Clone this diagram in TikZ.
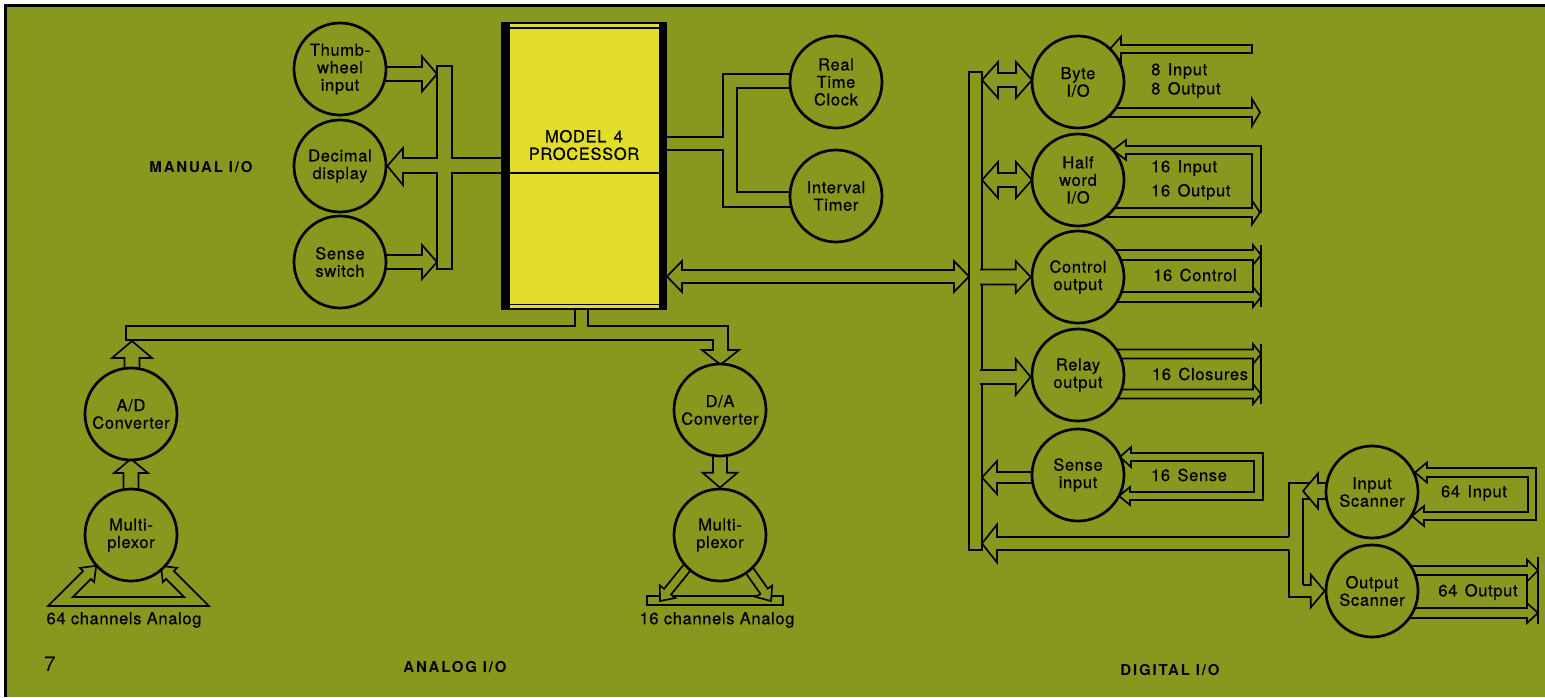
\documentclass[tikz,border=0pt]{standalone}
\usepackage{fontspec}
\setmainfont{TeX Gyre Heros}
\usetikzlibrary{calc}
\definecolor{olivebg}{RGB}{136,152,30}
\definecolor{procyellow}{RGB}{226,220,42}
\pgfdeclarelayer{chan}
\pgfsetlayers{chan,main}
\newcommand{\lblfont}{\fontsize{16.5}{17.5}\selectfont\addfontfeature{LetterSpace=4,FakeBold=0.6}}
\newcommand{\sectfont}{\fontsize{15}{17}\selectfont\bfseries\addfontfeature{LetterSpace=12}}
\newcommand{\wgap}{\hspace{0.45em}}
% hollow arrow with open base: [style]{start}{tip}{shaft half width}{head half width}{head length}
\newcommand{\hollowarr}[6][]{%
 \coordinate (ha) at (#2);
 \coordinate (hb) at (#3);
 \coordinate (hc) at ($(hb)!#6!(ha)$);
 \path[harr,#1] ($(ha)!#4!90:(hb)$) -- ($(hc)!#4!90:(hb)$) -- ($(hc)!#5!90:(hb)$) -- (hb) -- ($(hc)!#5!-90:(hb)$) -- ($(hc)!#4!-90:(hb)$) -- ($(ha)!#4!-90:(hb)$);%
}
% hollow double-headed arrow
\newcommand{\hollowdarr}[6][]{%
 \coordinate (ha) at (#2);
 \coordinate (hb) at (#3);
 \coordinate (hc) at ($(hb)!#6!(ha)$);
 \coordinate (hd) at ($(ha)!#6!(hb)$);
 \path[harr,#1] (ha) -- ($(hd)!#5!90:(hb)$) -- ($(hd)!#4!90:(hb)$) -- ($(hc)!#4!90:(hb)$) -- ($(hc)!#5!90:(hb)$) -- (hb) -- ($(hc)!#5!-90:(hb)$) -- ($(hc)!#4!-90:(hb)$) -- ($(hd)!#4!-90:(hb)$) -- ($(hd)!#5!-90:(hb)$) -- cycle;%
}
\tikzset{
 harr/.style={draw, fill=olivebg, line width=1.7pt, line join=miter},
 wire/.style={draw, line width=1.7pt, line join=miter},
 unit/.style={circle, draw, line width=2.7pt, fill=olivebg, minimum size=92pt, inner sep=0pt, align=center, font=\lblfont},
 txt/.style={inner sep=0pt, font=\lblfont},
 sect/.style={inner sep=0pt, font=\sectfont},
}
\begin{document}
\begin{tikzpicture}[x=1pt,y=-1pt]
\useasboundingbox (0,0) rectangle (1545,697);
% ---------- units ----------
\node[unit] (thumb) at (340,69) {Thumb-\\wheel\\input};
\node[unit] (decimal) at (340,166) {Decimal\\display};
\node[unit] (sensesw) at (340,262) {Sense\\switch};
\node[unit] (clock) at (836,82) {Real\\Time\\Clock};
\node[unit] (timer) at (836,196) {Interval\\Timer};
\node[unit] (ad) at (131,414) {A/D\\Converter};
\node[unit] (muxa) at (131,535) {Multi-\\plexor};
\node[unit] (da) at (720,410) {D/A\\Converter};
\node[unit] (muxd) at (720,535) {Multi-\\plexor};
\node[unit] (byte) at (1078,82) {Byte\\I/O};
\node[unit] (half) at (1078,180) {Half\\word\\I/O};
\node[unit] (ctrl) at (1078,277) {Control\\output};
\node[unit] (relay) at (1078,375) {Relay\\output};
\node[unit] (sensein) at (1078,475) {Sense\\input};
\node[unit] (inscan) at (1372,492) {Input\\Scanner};
\node[unit] (outscan) at (1372,591) {Output\\Scanner};
% ---------- processor ----------
\node[fill=procyellow, minimum width=166pt, minimum height=288pt, inner sep=0pt] (proc) at (584,166) {};
\fill[black] (501,22) rectangle (510,310);
\fill[black] (659,22) rectangle (667,310);
\draw[line width=2.4pt] (501,23.2) -- (667,23.2);
\draw[line width=1.3pt] (510,28) -- (659,28);
\draw[line width=1.3pt] (510,304.5) -- (659,304.5);
\draw[line width=2.4pt] (501,308.8) -- (667,308.8);
\draw[line width=1.2pt] (510,173) -- (659,173);
\node[txt, align=center] (proctext) at (584,145) {MODEL\wgap 4\\PROCESSOR};
% ---------- texts ----------
\node[sect] (manual) at (201,167) {MANUAL I/O};
\node[sect] (analog) at (455,667) {ANALOG I/O};
\node[sect] (digital) at (1170,670) {DIGITAL I/O};
\node[inner sep=0pt, font=\fontsize{21}{21}\selectfont] (pagenum) at (50,664) {7};
\node[txt] (ch64) at (124,620) {64 channels Analog};
\node[txt] (ch16) at (717,620) {16 channels Analog};
\node[txt, anchor=west] (t8in) at (1151,71) {8\wgap Input};
\node[txt, anchor=west] (t8out) at (1151,90) {8\wgap Output};
\node[txt, anchor=west] (t16in) at (1151,168) {16\wgap Input};
\node[txt, anchor=west] (t16out) at (1151,192) {16\wgap Output};
\node[txt] (tctrl) at (1195,275) {16\wgap Control};
\node[txt] (tclos) at (1200,374) {16\wgap Closures};
\node[txt] (tsense) at (1189,475) {16\wgap Sense};
\node[txt] (t64in) at (1474,493) {64\wgap Input};
\node[txt] (t64out) at (1478,592) {64\wgap Output};
% ---------- channels (below) ----------
\begin{pgfonlayer}{chan}
\fill[white] (0,0) rectangle (1545,697);
\fill[olivebg] (5,5) rectangle (1545,697);
\draw[line width=3pt] (5.5,697) -- (5.5,5.5) -- (1545,5.5);
% manual I/O bus
\draw[harr] (437,66) -- (452,66) -- (452,158) -- (505,158) -- (505,173) -- (452,173) -- (452,269) -- (437,269) -- (437,173) -- (403,173) -- (403,185) -- (decimal.east) -- (403,148) -- (403,158) -- (437,158) -- cycle;
\hollowarr{$(thumb.center)+(43,5)$}{437,74}{7pt}{17.5pt}{15pt}
\hollowarr{$(sensesw.center)+(43,0)$}{437,262}{7pt}{17pt}{15pt}
% clock and timer
\draw[wire] (665,137) -- (723,137) -- (723,74) -- ($(clock.center)+(-44,-8)$);
\draw[wire] (665,150) -- (723,150) -- (723,207) -- ($(timer.center)+(-44,11)$);
\draw[wire] ($(clock.center)+(-44,6)$) -- (737,88) -- (737,192) -- ($(timer.center)+(-44,-4)$);
% processor to digital bus
\hollowdarr{667,276.5}{969,276.5}{6.5pt}{15.5pt}{15pt}
% analog channel
\draw[harr, fill=none] (575,300) -- (575,326) -- (126,326) -- (126,340) -- (713,340) -- (713,350) -- (702,350) -- ($(da.north)+(0.5,2)$) -- (739,350) -- (728,350) -- (728,326) -- (588,326) -- (588,300);
\hollowarr{$(ad.center)+(1,-43)$}{132,341}{7.5pt}{20pt}{17pt}
\hollowarr{$(muxa.center)+(0,-43)$}{131,459}{7.5pt}{17pt}{14pt}
\hollowarr{$(da.center)+(0,43)$}{$(muxd.north)$}{7pt}{17.5pt}{15pt}
% 64 channel tray
\draw[harr] (96.2,565.8) -- (79.9,567.9) -- (83.1,571.1) -- (48,606) -- (209,606) -- (173.9,571.1) -- (177.1,567.9) -- (160.8,565.8) -- (162.9,582.1) -- (166.1,578.9) -- (184.2,597) -- (72.8,597) -- (90.9,578.9) -- (94.1,582.1) -- cycle;
% 16 channel tray
\draw[harr] (647,596) rectangle (783,605);
\hollowarr{$(muxd.center)+(-30,29)$}{660,601}{4.5pt}{10pt}{12pt}
\hollowarr{$(muxd.center)+(27,32)$}{771,601}{4.5pt}{10pt}{12pt}
% digital bus
\draw[harr] (969,72) rectangle (982,550);
\hollowdarr{982,80}{1032,80}{7pt}{18pt}{16pt}
\hollowdarr{982,180}{1032,180}{7pt}{18pt}{16pt}
\hollowarr{980,277}{ctrl.west}{7.5pt}{16pt}{15pt}
\hollowarr{980,377}{$(relay.west)+(0,2)$}{7pt}{18pt}{15pt}
\hollowarr{$(sensein.center)+(-43,2.5)$}{982,477.5}{5.5pt}{16.5pt}{15pt}
% byte I/O
\hollowarr{1252,49}{$(byte.center)+(32,-33)$}{4pt}{12.5pt}{11pt}
\draw[wire] (1252,44.2) -- (1252,53.8);
\hollowarr{$(byte.center)+(30,30.5)$}{1260,112.5}{4.5pt}{13.5pt}{8pt}
% half word I/O
\draw[wire] (1126,146) -- (1261,146) -- (1261,212.5);
\draw[wire] (1126,154) -- (1252,154) -- (1252,201);
\hollowarr{1130,150}{$(half.center)+(35,-30)$}{4pt}{10pt}{13pt}
\hollowarr{$(half.center)+(28,32.5)$}{1260,212.5}{4.5pt}{12pt}{8pt}
% control output
\draw[wire] (1261,245) -- (1261,307);
\draw[wire, line width=1.1pt] (1253,260) -- (1253,292);
\hollowarr{$(ctrl.center)+(37,-22)$}{1261,255}{5pt}{10pt}{8pt}
\hollowarr{$(ctrl.center)+(38,20)$}{1261,297}{5pt}{10pt}{8pt}
% relay output
\draw[wire] (1261,344) -- (1261,404);
\draw[wire, line width=1.1pt] (1253,358.5) -- (1253,389.5);
\hollowarr{$(relay.center)+(37,-21)$}{1261,354}{4.5pt}{10pt}{8pt}
\hollowarr{$(relay.center)+(37,19)$}{1261,394}{4.5pt}{10pt}{8pt}
% sense input
\draw[wire] (1131,453) -- (1263,453) -- (1263,500) -- (1131,500);
\draw[wire] (1131,461) -- (1254,461) -- (1254,492) -- (1131,492);
\hollowarr{1135,457}{$(sensein.center)+(42,-18)$}{4pt}{10pt}{11pt}
\hollowarr{1134,496}{$(sensein.center)+(41,21)$}{4pt}{9pt}{11pt}
% scanners
\hollowarr{1289,543.5}{982,543.5}{6.5pt}{19pt}{15pt}
\draw[wire] (1289,537) -- (1289,483) -- (1318,483);
\draw[wire] (1289,550) -- (1289,597) -- (1303,597);
\draw[wire] (1318,499) -- (1303,499) -- (1303,585);
\hollowarr{$(inscan.center)+(-42,-1)$}{1303,491}{8pt}{17.5pt}{15pt}
\hollowarr{1303,591}{outscan.west}{6pt}{16.5pt}{14pt}
% 64 input
\draw[wire] (1426,468) -- (1536,468) -- (1536,520) -- (1426,520);
\draw[wire] (1426,477) -- (1528,477) -- (1528,512) -- (1426,512);
\hollowarr{1430,472.5}{$(inscan.center)+(43,-19.5)$}{4.5pt}{10pt}{12pt}
\hollowarr{1430,516}{$(inscan.center)+(40,24)$}{4pt}{10pt}{12pt}
% 64 output
\draw[wire, line width=1.2pt] (1538,557) -- (1538,624);
\draw[wire, line width=1.1pt] (1527,575) -- (1527,608);
\hollowarr{$(outscan.center)+(38,-20.5)$}{1538,570.5}{4.5pt}{11pt}{11pt}
\hollowarr{$(outscan.center)+(38,22)$}{1538,613}{5pt}{10pt}{11pt}
\end{pgfonlayer}
\end{tikzpicture}
\end{document}
